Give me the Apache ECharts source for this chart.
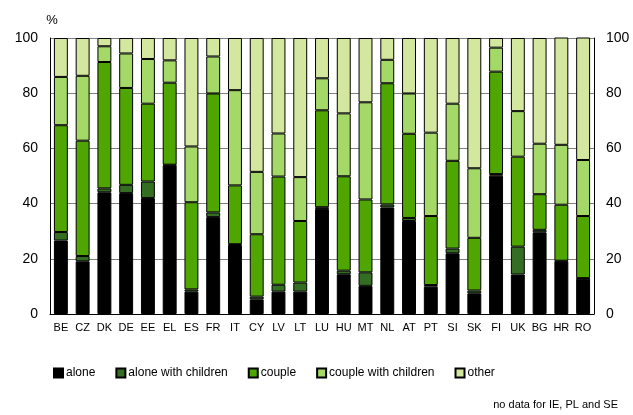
<!DOCTYPE html>
<html>
<head>
<meta charset="utf-8">
<script src="https://cdn.jsdelivr.net/npm/echarts@6/dist/echarts.min.js"></script>
<style>
html, body { margin: 0; padding: 0; background: #fff; }
#chart_1 { width: 633px; height: 415px; }
</style>
</head>
<body>
<div id="chart_1"></div>
<script>
// categories
var countries = ['BE', 'CZ', 'DK', 'DE', 'EE', 'EL', 'ES', 'FR', 'IT', 'CY', 'LV', 'LT', 'LU',
	'HU', 'MT', 'NL', 'AT', 'PT', 'SI', 'SK', 'FI', 'UK', 'BG', 'HR', 'RO'];

// shares, %
var alone = [26.6, 19.1, 44.1, 43.8, 42.0, 53.9, 8.1, 35.1, 25.0, 5.3, 8.1, 8.1, 38.0,
	14.4, 10.2, 38.6, 33.7, 9.9, 22.0, 7.5, 50.1, 14.3, 29.6, 19.1, 12.8];
var aloneChildren = [3.1, 1.9, 1.4, 3.0, 6.0, 0.2, 0.8, 1.7, 0.3, 1.0, 2.5, 3.3, 0.7,
	1.3, 4.9, 1.1, 1.1, 0.6, 1.7, 1.0, 0.6, 10.1, 0.9, 0.2, 0.2];
var couple = [38.7, 41.8, 45.8, 35.1, 28.2, 29.7, 31.6, 43.1, 21.3, 22.6, 39.2, 22.3, 35.1,
	34.2, 26.4, 43.9, 30.5, 25.0, 31.8, 19.1, 37.1, 32.6, 12.9, 20.3, 22.5];
var coupleChildren = [17.5, 23.5, 5.7, 12.5, 16.2, 8.1, 20.2, 13.4, 34.5, 22.6, 15.6, 15.9, 11.6,
	22.8, 35.2, 8.5, 14.6, 30.2, 20.7, 25.2, 8.7, 16.5, 18.3, 21.7, 20.3];
var other = [14.1, 13.7, 3.0, 5.6, 7.6, 8.1, 39.3, 6.7, 18.9, 48.5, 34.6, 50.4, 14.6,
	27.3, 23.3, 7.9, 20.1, 34.3, 23.8, 47.2, 3.5, 26.5, 38.3, 38.9, 44.4];

var yTicks = [0, 20, 40, 60, 80, 100];

var fnt = 'Liberation Sans, Arial, sans-serif';

function makeSeries(name, data, color) {
	return {
		name: name,
		type: 'bar',
		stack: 'all',
		barCategoryGap: '36%',
		data: data,
		itemStyle: {
			color: color,
			borderColor: '#000',
			borderWidth: 1
		},
		emphasis: { disabled: true }
	};
}

function yAxisDef(pos) {
	return {
		type: 'value',
		position: pos,
		min: yTicks[0],
		max: yTicks[yTicks.length - 1],
		interval: 20,
		name: pos == 'left' ? '%' : '',
		nameGap: 11,
		nameTextStyle: { color: '#000', fontSize: 13, fontFamily: fnt, align: 'center', padding: [0, 0, 0, 4] },
		axisLine: { show: true, lineStyle: { color: '#000', width: 1 } },
		axisTick: { show: false },
		axisLabel: { color: '#000', fontSize: 14, fontFamily: fnt, margin: 12 },
		splitLine: { show: pos == 'left', lineStyle: { color: '#808080', width: 1 } }
	};
}

var option = {
	animation: false,
	backgroundColor: '#fff',
	grid: { left: 50, right: 39, top: 38, bottom: 101 },
	legend: {
		left: 48,
		top: 362,
		itemWidth: 9,
		itemHeight: 9,
		itemGap: 20,
		icon: 'rect',
		textStyle: { color: '#000', fontSize: 12, fontFamily: fnt, padding: [0, 0, 0, -2] },
		data: ['alone', 'alone with children', 'couple', 'couple with children', 'other']
	},
	graphic: [{
		type: 'text',
		right: 15,
		top: 399,
		style: { text: 'no data for IE, PL and SE', fill: '#000', font: '11px ' + fnt }
	}],
	xAxis: {
		type: 'category',
		data: countries,
		axisLine: { lineStyle: { color: '#000', width: 1 } },
		axisTick: { show: false },
		axisLabel: { color: '#000', fontSize: 11, fontFamily: fnt, margin: 8, interval: 0 }
	},
	yAxis: [yAxisDef('left'), yAxisDef('right')],
	series: [
		makeSeries('alone', alone, '#000000'),
		makeSeries('alone with children', aloneChildren, '#336e22'),
		makeSeries('couple', couple, '#50a600'),
		makeSeries('couple with children', coupleChildren, '#a4d867'),
		makeSeries('other', other, '#d3e89e')
	]
};

var myChart = echarts.init(document.getElementById('chart_1'));
myChart.setOption(option);
</script>
</body>
</html>
